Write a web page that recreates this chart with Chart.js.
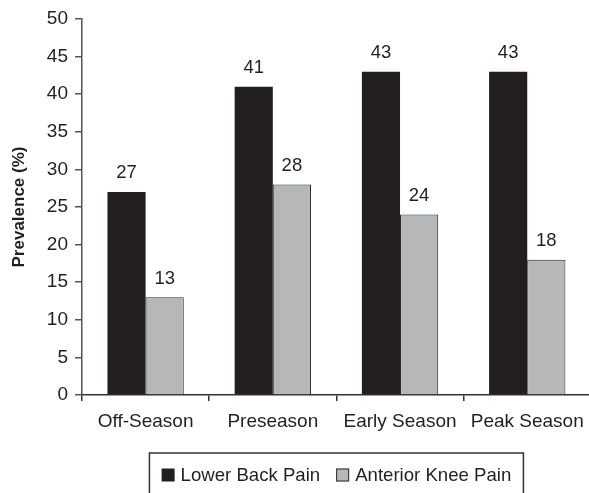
<!DOCTYPE html>
<html>
<head>
<meta charset="utf-8">
<script src="https://cdn.jsdelivr.net/npm/chart.js@4/dist/chart.umd.min.js"></script>
<style>
  html, body { margin: 0; padding: 0; background: #fff; overflow: hidden; }
  #wrap { width: 593px; height: 493px; position: relative; }
</style>
</head>
<body>
<div id="wrap"><canvas id="c"></canvas></div>
<script>
// Seasonal prevalence of pain (%)
const seasons = ['Off-Season', 'Preseason', 'Early Season', 'Peak Season'];
const lowerBackPain = [27, 41, 43, 43];
const anteriorKneePain = [13, 28, 24, 18];
const seriesNames = ['Lower Back Pain', 'Anterior Knee Pain'];
const yTicks = [0, 5, 10, 15, 20, 25, 30, 35, 40, 45, 50];

const FONT = '"Liberation Sans", Arial, Helvetica, sans-serif';
const INK = '#231f20';
const DARK = '#231f20';
const GREY = '#b6b7b9';

// Value labels above each bar
const valueLabels = {
  id: 'valueLabels',
  afterDatasetsDraw(chart) {
    const ctx = chart.ctx;
    ctx.save();
    ctx.font = '18.5px ' + FONT;
    ctx.fillStyle = INK;
    ctx.textAlign = 'center';
    ctx.textBaseline = 'alphabetic';
    chart.data.datasets.forEach((ds, i) => {
      chart.getDatasetMeta(i).data.forEach((bar, j) => {
        ctx.fillText(String(ds.data[j]), bar.x, bar.y - 13.5);
      });
    });
    ctx.restore();
  }
};

// Boxed legend under the x axis
const boxedLegend = {
  id: 'boxedLegend',
  afterDraw(chart) {
    const ctx = chart.ctx;
    const area = chart.chartArea;
    ctx.save();
    ctx.font = '18.6px ' + FONT;
    const sq = 13, gapText = 6, gapItem = 16;
    const items = chart.data.datasets.map(ds => ({
      label: ds.label, fill: ds.backgroundColor, stroke: ds.borderWidth ? ds.borderColor : null,
      w: ctx.measureText(ds.label).width
    }));
    let total = 0;
    items.forEach((it, k) => { total += sq + gapText + it.w + (k ? gapItem : 0); });
    const cx = (area.left + area.right) / 2;
    const boxW = 374, boxTop = 453, boxH = 60;
    ctx.strokeStyle = '#333';
    ctx.lineWidth = 1.5;
    ctx.strokeRect(cx - boxW / 2, boxTop, boxW, boxH);
    let x = cx - total / 2;
    const midY = 475;
    items.forEach((it, k) => {
      if (k) x += gapItem;
      ctx.fillStyle = it.fill;
      ctx.fillRect(x, midY - sq / 2, sq, sq);
      if (it.stroke) {
        ctx.strokeStyle = it.stroke;
        ctx.lineWidth = 1;
        ctx.strokeRect(x + 0.5, midY - sq / 2 + 0.5, sq - 1, sq - 1);
      }
      x += sq + gapText;
      ctx.fillStyle = INK;
      ctx.textBaseline = 'middle';
      ctx.textAlign = 'left';
      ctx.fillText(it.label, x, midY + 1);
      x += it.w;
    });
    ctx.restore();
  }
};

new Chart(document.getElementById('c'), {
  type: 'bar',
  data: {
    labels: seasons,
    datasets: [
      { label: seriesNames[0], data: lowerBackPain, backgroundColor: DARK, borderWidth: 0 },
      { label: seriesNames[1], data: anteriorKneePain, backgroundColor: GREY, borderColor: '#2a2a2a', borderWidth: 1 }
    ]
  },
  options: {
    responsive: true,
    maintainAspectRatio: false,
    animation: false,
    devicePixelRatio: 1,
    layout: { padding: { top: 19, right: 2, bottom: 58, left: 0 } },
    datasets: { bar: { categoryPercentage: 0.6, barPercentage: 1.0 } },
    plugins: { legend: { display: false }, tooltip: { enabled: false } },
    scales: {
      x: {
        offset: true,
        grid: { offset: true, drawOnChartArea: false, drawTicks: true, tickLength: 6, color: '#333', lineWidth: 1.5 },
        border: { color: '#333', width: 1.5 },
        ticks: { color: INK, font: { family: FONT, size: 19 }, padding: 9, maxRotation: 0 },
        afterFit(scale) { scale.height = 40; }
      },
      y: {
        min: 0,
        max: 50,
        afterBuildTicks(scale) { scale.ticks = yTicks.map(v => ({ value: v })); },
        grid: { drawOnChartArea: false, drawTicks: true, tickLength: 7, color: '#555', lineWidth: 1.5 },
        border: { color: '#555', width: 1.5 },
        ticks: { color: INK, font: { family: FONT, size: 19 }, padding: 7 },
        title: {
          display: true,
          text: 'Prevalence (%)',
          color: INK,
          font: { family: FONT, size: 17, weight: 'bold' },
          padding: { top: 9, bottom: 0 }
        },
        afterFit(scale) { scale.width = 82; }
      }
    }
  },
  plugins: [valueLabels, boxedLegend]
});
</script>
</body>
</html>
